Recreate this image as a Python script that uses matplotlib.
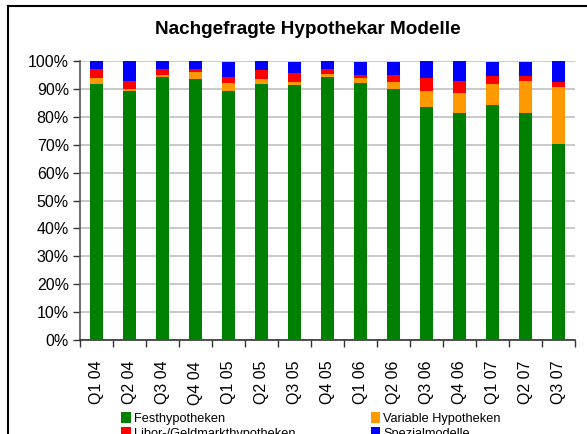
import matplotlib
matplotlib.use("Agg")
import matplotlib.pyplot as plt
from matplotlib.lines import Line2D
from matplotlib.patches import Patch
import numpy as np

plt.rcParams['font.family'] = ['Liberation Sans', 'DejaVu Sans']

categories = ["Q1 04", "Q2 04", "Q3 04", "Q4 04", "Q1 05", "Q2 05", "Q3 05", "Q4 05",
              "Q1 06", "Q2 06", "Q3 06", "Q4 06", "Q1 07", "Q2 07", "Q3 07"]
fest = [91.9, 89.1, 94.4, 93.6, 89.1, 91.9, 91.5, 94.4, 92.2, 89.8, 83.4, 81.3, 84.1, 81.3, 70.4]
variabel = [2.1, 1.0, 0.7, 2.5, 3.1, 1.7, 1.1, 1.0, 1.8, 2.8, 5.7, 7.4, 7.8, 11.6, 20.4]
libor = [3.2, 2.8, 2.1, 1.1, 2.2, 3.2, 3.2, 1.8, 1.1, 2.5, 4.9, 4.2, 2.8, 1.8, 1.8]
spezial = [2.8, 7.1, 2.8, 2.8, 5.2, 3.2, 3.8, 2.8, 4.5, 4.5, 6.0, 7.1, 4.9, 4.9, 7.4]
series_names = ["Festhypotheken", "Variable Hypotheken", "Libor-/Geldmarkthypotheken", "Spezialmodelle"]
colors = ["#008000", "#FF9900", "#FF0000", "#0000FF"]
yticklabels = ["0%", "10%", "20%", "30%", "40%", "50%", "60%", "70%", "80%", "90%", "100%"]
title = "Nachgefragte Hypothekar Modelle"

W, H = 587, 434
fig = plt.figure(figsize=(W / 100, H / 100), dpi=100)
ax = fig.add_axes([80 / W, 1 - 340 / H, 495 / W, 279 / H])

x = np.arange(len(categories))
bottom = np.zeros(len(categories))
for vals, c in zip([fest, variabel, libor, spezial], colors):
    ax.bar(x, vals, width=0.42, bottom=bottom, color=c, zorder=3, linewidth=0)
    bottom += np.array(vals)

ax.set_xlim(-0.5, len(categories) - 0.5)
ax.set_ylim(0, 100)
ax.set_yticks(np.arange(0, 101, 10))
ax.set_yticklabels(yticklabels, fontsize=11.5)
ax.set_xticks(x)
ax.set_xticklabels(categories, rotation=90, fontsize=11.5)
ax.tick_params(axis='x', length=0, pad=15)
ax.set_xticks(np.arange(-0.5, len(categories), 1), minor=True)
ax.tick_params(axis='x', which='minor', length=5, width=1, color='#333333', direction='out')
ax.tick_params(axis='y', length=5, width=1, color='#333333', direction='out', pad=3)
ax.yaxis.grid(True, color='#c0c0c0', linewidth=1.2, zorder=0)
for s in ['top', 'right']:
    ax.spines[s].set_visible(False)
ax.spines['left'].set_color('#555555')
ax.spines['bottom'].set_color('#333333')
ax.spines['left'].set_linewidth(1.2)
ax.spines['bottom'].set_linewidth(1.2)

fig.text(308 / W, 1 - 30 / H, title, ha='center', va='center', fontsize=13.6, fontweight='bold')

# outer frame
fig.add_artist(Line2D([8 / W, 1], [1 - 6 / H, 1 - 6 / H], transform=fig.transFigure, color='black', linewidth=1.5))
fig.add_artist(Line2D([8 / W, 8 / W], [0, 1 - 6 / H], transform=fig.transFigure, color='black', linewidth=1.5))

# legend filled row-wise (matplotlib fills column-wise, so reorder)
order = [0, 2, 1, 3]
handles = [Patch(facecolor=colors[i], edgecolor='none') for i in order]
labels = [series_names[i] for i in order]
leg = fig.legend(handles, labels, loc='upper left', bbox_to_anchor=(121 / W, 1 - 412 / H),
                 ncol=2, frameon=False, fontsize=9.2, handlelength=0.75, handleheight=1.0,
                 handletextpad=0.25, columnspacing=5.9, labelspacing=0.15, borderaxespad=0,
                 borderpad=0)

fig.savefig("out.png", dpi=100)
